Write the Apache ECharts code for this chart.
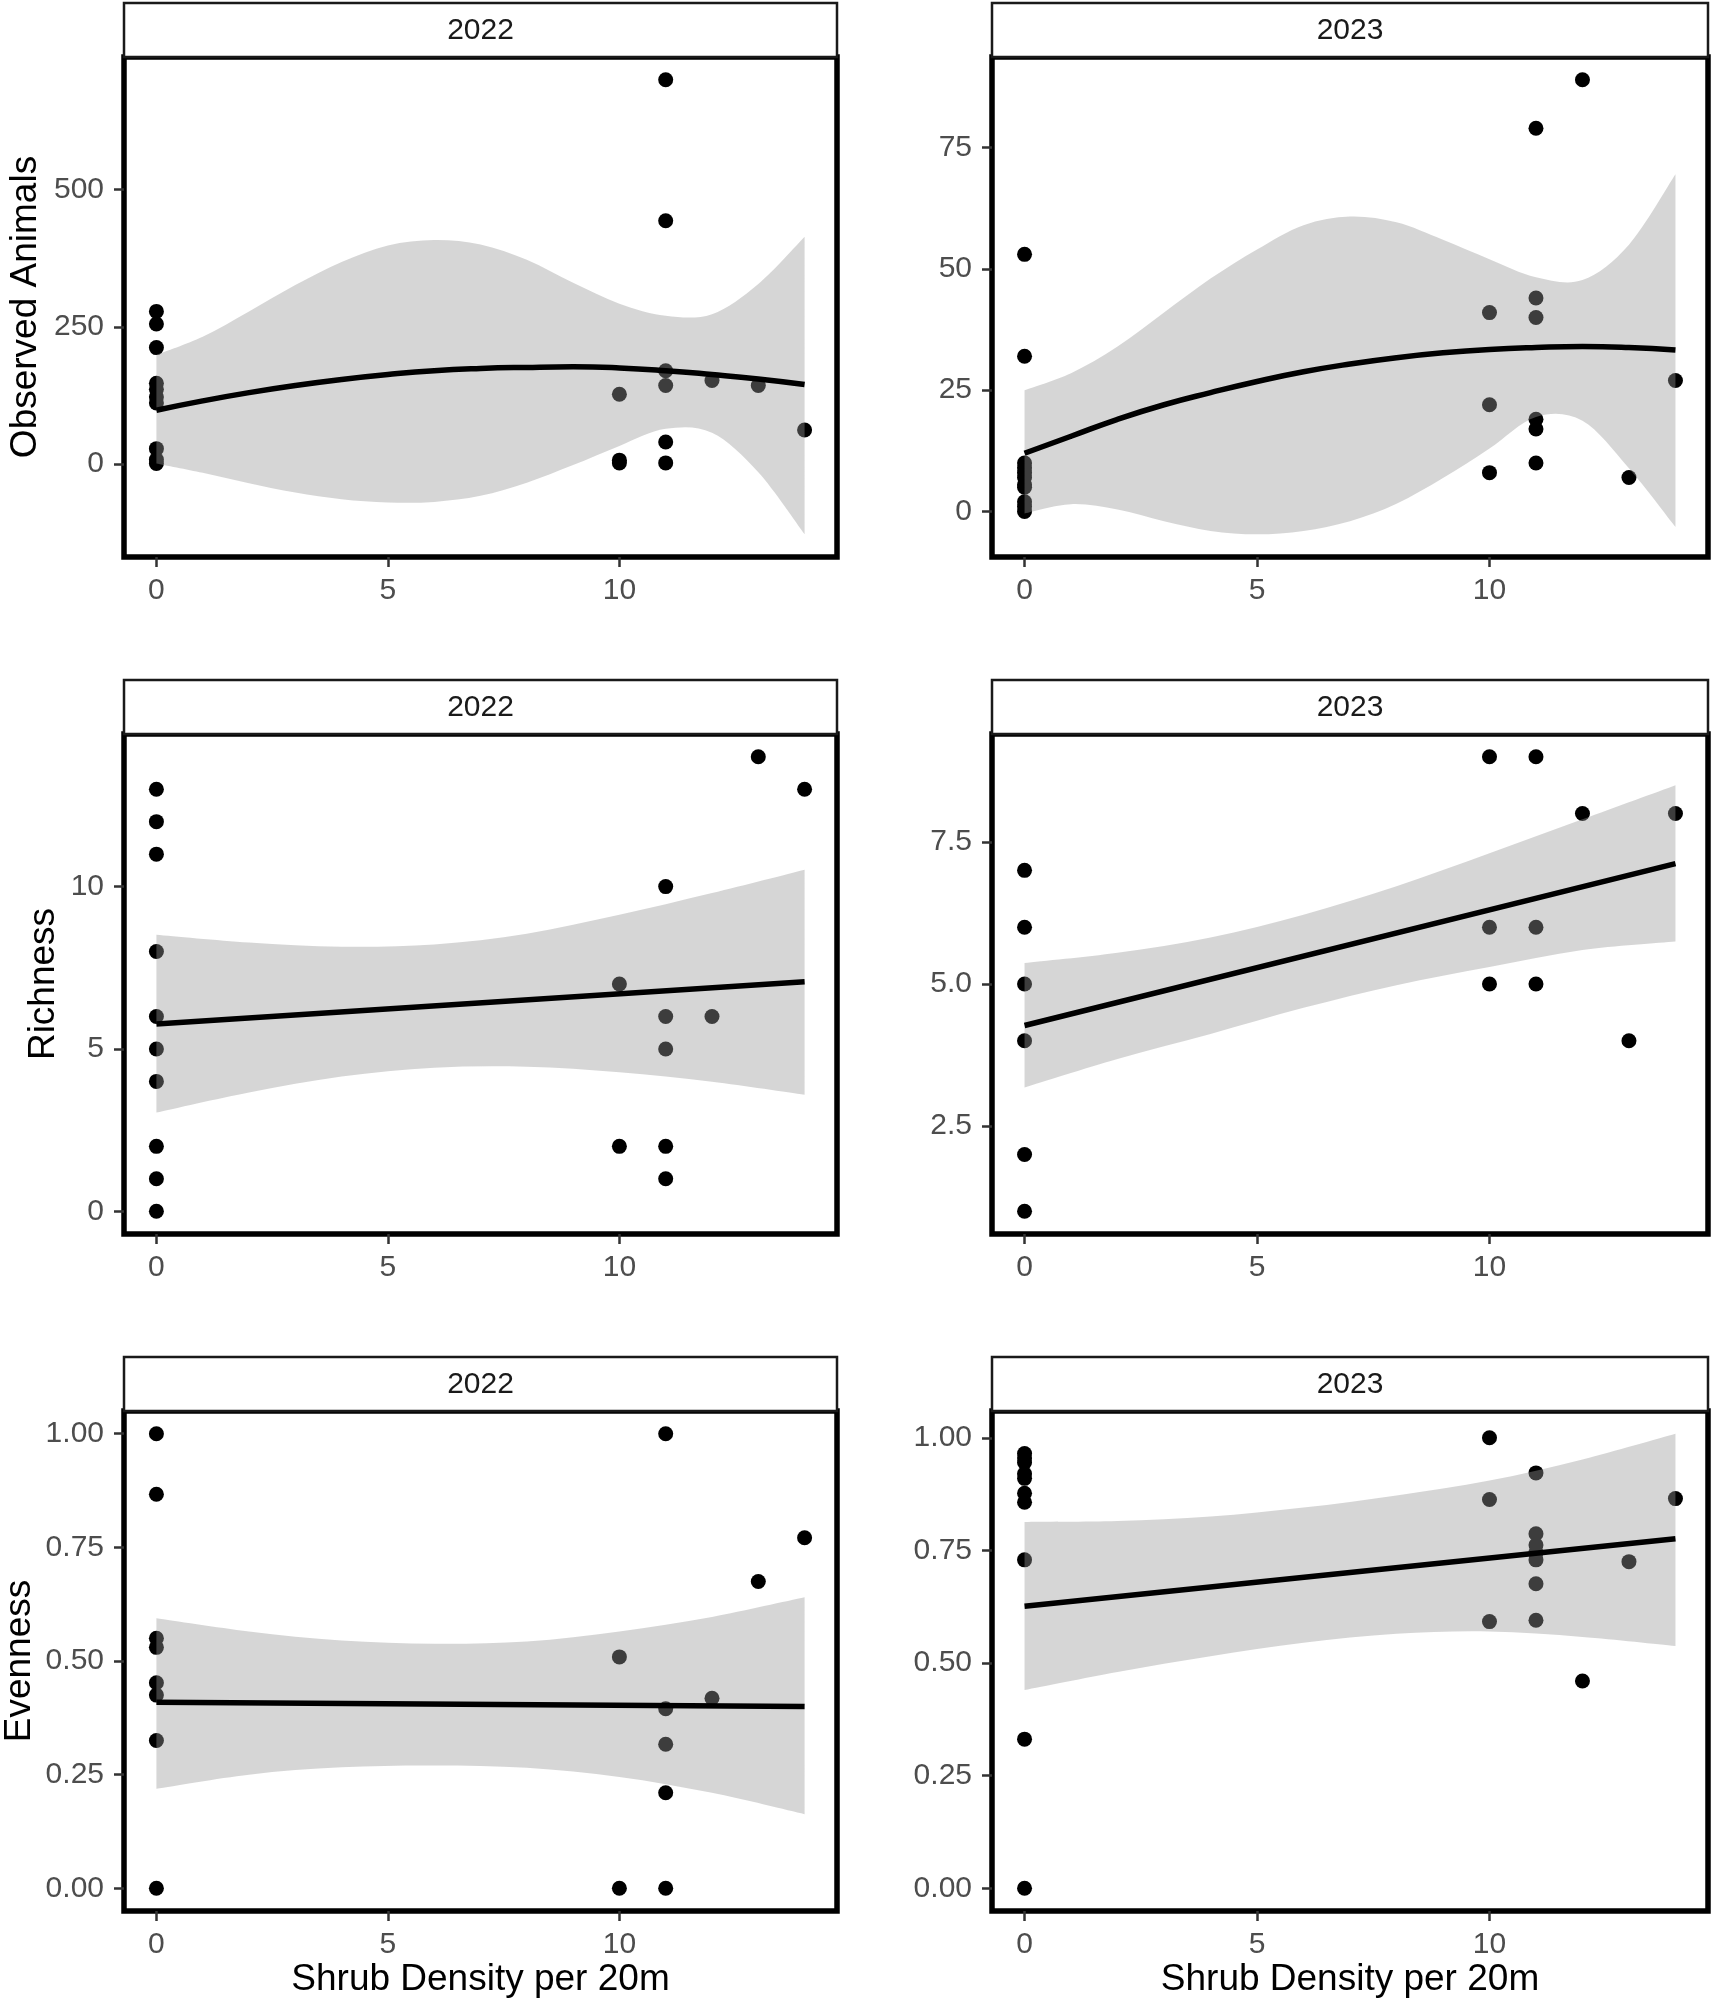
<!DOCTYPE html>
<html>
<head>
    <meta charset="utf-8">
    <title>Shrub density facets</title>
    <script src="https://cdn.jsdelivr.net/npm/echarts@6.0.0/dist/echarts.min.js"></script>
    <style>
        html, body { margin: 0; padding: 0; background: #fff; }
        #chart { width: 1713px; height: 2005px; }
    </style>
</head>
<body>
<div id="chart"></div>
<script>
    // ---- data ----
    var years = ['2022', '2023'];
    var yTitles = ['Observed Animals', 'Richness', 'Evenness'];
    var xTicks = [0, 5, 10];
    var animalTicks = [0, 250, 500];
    var animal23Ticks = [0, 25, 50, 75];
    var richTicks = [0, 5, 10];
    var rich23Ticks = [2.5, 5, 7.5];
    var evenTicks = [0, 0.25, 0.5, 0.75, 1];

    // observed points
    var animals22X = [0,0,0,0,0,0,0,0,0,0, 10,10,10, 11,11,11,11,11,11, 12, 13, 14];
    var animals22Y = [278,255,212,147,136,122,111,28,8,1, 127,7,2, 700,443,170,143,40,2, 152, 143, 62];
    var animals23X = [0,0,0,0,0,0,0,0,0,0,0, 10,10,10, 11,11,11,11,11,11, 12, 13, 14];
    var animals23Y = [53,32,10,9,8,7,5.5,5,2,1,0, 41,22,8, 79,44,40,19,17,10, 89, 7, 27];
    var rich22X = [0,0,0,0,0,0,0,0,0,0, 10,10, 11,11,11,11,11, 12, 13, 14];
    var rich22Y = [13,12,11,8,6,5,4,2,1,0, 7,2, 10,6,5,2,1, 6, 14, 13];
    var rich23X = [0,0,0,0,0,0, 10,10,10, 11,11,11, 12, 13, 14];
    var rich23Y = [7,6,5,4,2,1, 9,6,5, 9,6,5, 8, 4, 8];
    var even22X = [0,0,0,0,0,0,0,0, 10,10, 11,11,11,11,11, 12, 13, 14];
    var even22Y = [1,0.867,0.55,0.53,0.452,0.425,0.325,0, 0.509,0, 1,0.395,0.317,0.21,0, 0.418, 0.675, 0.771];
    var even23X = [0,0,0,0,0,0,0,0,0,0, 10,10,10, 11,11,11,11,11,11,11, 12, 13, 14];
    var even23Y = [0.965,0.955,0.945,0.92,0.91,0.877,0.857,0.729,0.331,0, 1,0.863,0.592, 0.922,0.787,0.762,0.745,0.729,0.676,0.595, 0.46, 0.725, 0.865];

    // fitted curves and confidence bands
    var gamX = [0,1,2,3,4,5,6,7,8,9,10,11,12,13,14];
    var animals22Fit = [98,115,130,143,154,163,170,174,176,177,175,170,163,155,145];
    var animals22Lo = [1,-16,-35,-52,-64,-70,-69,-58,-34,-2,33,64,57,-15,-128];
    var animals22Hi = [199,232,278,326,368,398,408,400,372,330,292,270,273,328,414];
    var animals23Fit = [12,15.5,19,22,24.5,26.8,28.8,30.4,31.7,32.7,33.4,33.8,34,33.8,33.3];
    var animals23Lo = [-0.4,1.5,0.4,-2,-4,-4.7,-4,-2,1.6,6.9,13,19.5,18.7,8.9,-3.2];
    var animals23Hi = [25,28.5,34,41,48,54,59,60.8,59.6,56,52,48.3,47.7,55,69.5];

    var lmX = [0, 14];
    var bandX = [0,2,4,6,8,10,12,14];
    var rich22Fit = [5.77, 7.07];
    var rich22Lo = [3.04,3.66,4.15,4.42,4.45,4.28,3.99,3.59];
    var rich22Hi = [8.52,8.28,8.15,8.22,8.55,9.13,9.8,10.52];
    var rich23Fit = [4.27, 7.12];
    var rich23Lo = [3.18,3.68,4.12,4.58,4.98,5.3,5.6,5.75];
    var rich23Hi = [5.37,5.55,5.82,6.22,6.72,7.3,7.9,8.5];
    var even22Fit = [0.409, 0.400];
    var even22Lo = [0.219,0.25,0.266,0.27,0.265,0.245,0.21,0.163];
    var even22Hi = [0.594,0.565,0.545,0.538,0.543,0.565,0.597,0.64];
    var even23Fit = [0.626, 0.776];
    var even23Lo = [0.44,0.48,0.515,0.545,0.565,0.57,0.558,0.538];
    var even23Hi = [0.813,0.815,0.825,0.845,0.872,0.905,0.952,1.009];

    // ---- layout ----
    var FONT = '"Liberation Sans", Arial, Helvetica, sans-serif';
    var colLeft = [124, 992], colWidth = [713, 716];
    var rowTop = [57, 734, 1411], panelH = 500, stripH = 54;
    var titleGap = [80, 62, 86];

    var panels = [
        {px: animals22X, py: animals22Y, fx: gamX, fit: animals22Fit, bx: gamX, lo: animals22Lo, hi: animals22Hi, ticks: animalTicks, dec: 0, smooth: true},
        {px: animals23X, py: animals23Y, fx: gamX, fit: animals23Fit, bx: gamX, lo: animals23Lo, hi: animals23Hi, ticks: animal23Ticks, dec: 0, smooth: true},
        {px: rich22X, py: rich22Y, fx: lmX, fit: rich22Fit, bx: bandX, lo: rich22Lo, hi: rich22Hi, ticks: richTicks, dec: 0},
        {px: rich23X, py: rich23Y, fx: lmX, fit: rich23Fit, bx: bandX, lo: rich23Lo, hi: rich23Hi, ticks: rich23Ticks, dec: 1},
        {px: even22X, py: even22Y, fx: lmX, fit: even22Fit, bx: bandX, lo: even22Lo, hi: even22Hi, ticks: evenTicks, dec: 2},
        {px: even23X, py: even23Y, fx: lmX, fit: even23Fit, bx: bandX, lo: even23Lo, hi: even23Hi, ticks: evenTicks, dec: 2}
    ];

    // ggplot style 5% expansion
    function expand(vals) {
        var lo = Math.min.apply(null, vals), hi = Math.max.apply(null, vals);
        var pad = (hi - lo) * 0.05;
        return [lo - pad, hi + pad];
    }

    // smooth path through pixel points (catmull-rom)
    function curve(pts) {
        var d = '';
        for (var i = 0; i < pts.length - 1; i++) {
            var p0 = pts[i - 1] || pts[i], p1 = pts[i], p2 = pts[i + 1], p3 = pts[i + 2] || p2;
            var c1 = [p1[0] + (p2[0] - p0[0]) / 6, p1[1] + (p2[1] - p0[1]) / 6];
            var c2 = [p2[0] - (p3[0] - p1[0]) / 6, p2[1] - (p3[1] - p1[1]) / 6];
            d += ' C' + c1[0] + ',' + c1[1] + ' ' + c2[0] + ',' + c2[1] + ' ' + p2[0] + ',' + p2[1];
        }
        return d;
    }

    function bandRenderer(p) {
        return function (params, api) {
            if (params.dataIndex !== 0) return null;
            var up = p.bx.map(function (x, k) { return api.coord([x, p.hi[k]]); });
            var dn = p.bx.map(function (x, k) { return api.coord([x, p.lo[k]]); }).reverse();
            var d = 'M' + up[0][0] + ',' + up[0][1] + curve(up) +
                ' L' + dn[0][0] + ',' + dn[0][1] + curve(dn) + ' Z';
            return {
                type: 'path',
                shape: {pathData: d},
                style: {fill: 'rgba(153,153,153,0.4)', stroke: null}
            };
        };
    }

    var grids = [], xAxes = [], yAxes = [], series = [], graphics = [];

    panels.forEach(function (p, i) {
        var row = Math.floor(i / 2), col = i % 2;
        var left = colLeft[col], top = rowTop[row], w = colWidth[col];

        grids.push({
            left: left, top: top, width: w, height: panelH,
            show: true, borderColor: '#000', borderWidth: 5.5,
            backgroundColor: 'transparent',
            containLabel: false, outerBoundsMode: 'none'
        });

        var xr = expand(p.px.concat(p.fx));
        xAxes.push({
            type: 'value', gridIndex: i, min: xr[0], max: xr[1],
            axisLine: {show: false, onZero: false},
            splitLine: {show: false},
            axisTick: {show: true, customValues: xTicks, length: 10, lineStyle: {color: '#333', width: 2.5}},
            axisLabel: {customValues: xTicks, margin: 19, fontSize: 30, color: '#4d4d4d', fontFamily: FONT},
            name: row === 2 ? 'Shrub Density per 20m' : '',
            nameLocation: 'middle', nameGap: 45,
            nameTextStyle: {fontSize: 37, color: '#000', fontFamily: FONT}
        });

        var yr = expand(p.py.concat(p.fit, p.lo, p.hi));
        yAxes.push({
            type: 'value', gridIndex: i, min: yr[0], max: yr[1],
            axisLine: {show: false, onZero: false},
            splitLine: {show: false},
            axisTick: {show: true, customValues: p.ticks, length: 10, lineStyle: {color: '#333', width: 2.5}},
            axisLabel: {
                customValues: p.ticks, margin: 20, fontSize: 30, color: '#4d4d4d', fontFamily: FONT,
                formatter: (function (dec) { return function (v) { return Number(v).toFixed(dec); }; })(p.dec)
            },
            name: col === 0 ? yTitles[row] : '',
            nameLocation: 'middle', nameGap: titleGap[row],
            nameTextStyle: {fontSize: 37, color: '#000', fontFamily: FONT}
        });

        series.push({
            type: 'scatter', xAxisIndex: i, yAxisIndex: i, z: 2, silent: true,
            symbolSize: 15, itemStyle: {color: '#000', opacity: 1},
            data: p.px.map(function (x, k) { return [x, p.py[k]]; })
        });
        series.push({
            type: 'custom', xAxisIndex: i, yAxisIndex: i, z: 3, silent: true,
            renderItem: bandRenderer(p),
            encode: {x: 0, y: [1, 2]},
            data: p.bx.map(function (x, k) { return [x, p.lo[k], p.hi[k]]; })
        });
        series.push({
            type: 'line', xAxisIndex: i, yAxisIndex: i, z: 4, silent: true,
            smooth: !!p.smooth, symbol: 'none', showSymbol: false,
            lineStyle: {color: '#000', width: 5.5},
            data: p.fx.map(function (x, k) { return [x, p.fit[k]]; })
        });

        // facet strip
        graphics.push({
            type: 'rect', z: 1,
            shape: {x: left, y: top - stripH, width: w, height: stripH},
            style: {fill: '#fff', stroke: '#1a1a1a', lineWidth: 2.5}
        });
        graphics.push({
            type: 'text', z: 2,
            x: left + w / 2, y: top - stripH / 2 + 1,
            style: {text: years[col], fontSize: 30, fontFamily: FONT, fill: '#1a1a1a',
                textAlign: 'center', textVerticalAlign: 'middle'}
        });
    });

    var option = {
        animation: false,
        backgroundColor: '#fff',
        grid: grids,
        xAxis: xAxes,
        yAxis: yAxes,
        series: series,
        graphic: graphics
    };

    var chart = echarts.init(document.getElementById('chart'));
    chart.setOption(option);
</script>
</body>
</html>
